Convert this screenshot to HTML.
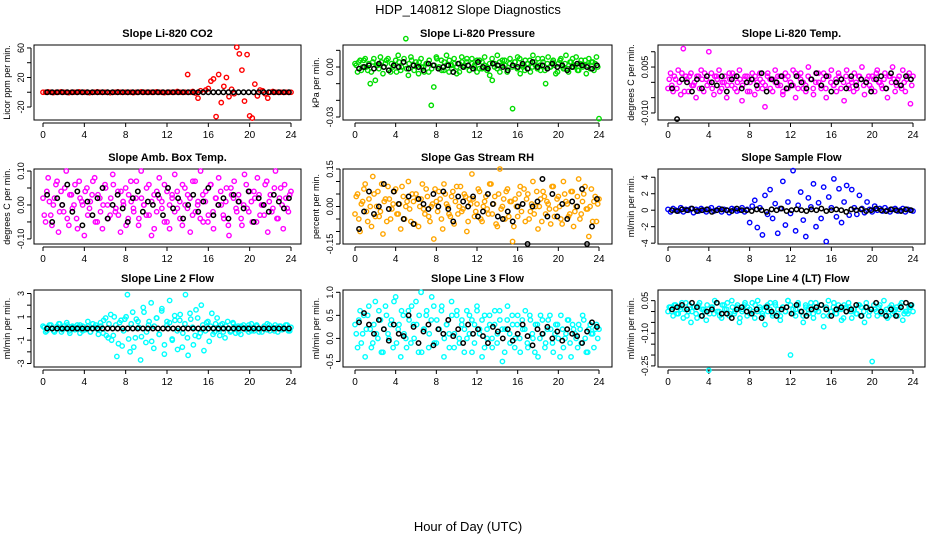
<!DOCTYPE html>
<html><head><meta charset="utf-8"><style>
html,body{margin:0;padding:0;background:#fff;}
svg{display:block;font-family:"Liberation Sans",sans-serif;}
</style></head><body>
<svg id="chart" width="936" height="540" viewBox="0 0 936 540" xmlns="http://www.w3.org/2000/svg">
<text x="468" y="14" font-size="13" text-anchor="middle">HDP_140812  Slope Diagnostics</text>
<text x="468" y="531" font-size="13" text-anchor="middle">Hour of Day (UTC)</text>
</svg>
<script>
// ----- data (hours evenly spaced 0..24 across each series) -----
const co2Color = [0,0,0.5,0,-0.5,0,0,0.5,0,0,-0.5,0,0,0,0.5,0,0,0,-0.5,0,0,0.5,0,0,0,0,-0.5,0,0,0.5,0,0,0,0,0,-0.5,0,0,0.5,0,0,0,0,0,0.5,0,0,-0.5,0,0,0,0,1,0,0,0,24,0,1,-1,-8,2,0,3,5,15,18,-33,24,-14,8,20,-6,4,-2,61,52,30,-12,51,-32,-35,11,-5,3,2,-2,-8,0,1,0,0,0,0,0,0,0];
const co2Black = [0,0,0,0,0,0,0,0,0,0,0,0,0,0,0,0,0,0,0,0,0,0,0,0,0,0,0,0,0,0,0,0,0,0,0,0,0,0,0,0,0,0,0,0,0,0,0,0,0];
// pressure in 0.001 kPa/min
const presColor = [2,-3,4,0,5,-2,-10,3,-8,1,6,-4,2,5,-3,0,4,7,-2,3,17,-5,6,1,3,-4,5,0,2,-3,-23,-12,6,0,4,-2,7,-3,1,5,-4,2,6,0,3,-2,5,1,-3,4,-1,6,0,-5,-8,2,7,-3,4,1,-2,5,-25,3,6,-4,0,4,2,-3,7,1,5,-2,3,-10,6,0,4,-4,2,5,-1,7,-3,3,0,6,-2,4,1,-4,5,3,-2,6,-31];
const presColor2 = [1,3,-2,4,0,2,-3,5,1,-1,3,0,4,-2,2,1,-3,3,0,5,-1,2,4,-2,1,3,0,-3,2,4,-1,1,5,0,-2,3,1,4,-1,2,0,-3,3,1,5,-2,2,0,4,-1,3,1,-2,2,5,0,-1,3,1,4,-3,2,0,3,-1,5,1,-2,2,4,0,3,-1,1,5,-2,2,0,3,1,-3,4,0,2,-1,3,5,1,-2,2,0,4,1,-1,3,2,0];
const presBlack = [-1,0,1,-1,2,0,-2,1,0,3,-1,1,0,-2,2,1,-1,0,1,-3,2,0,1,-1,3,0,-1,2,1,0,-2,1,0,2,-1,3,0,1,-1,2,0,1,-2,0,2,1,0,-1,1];
// temp in 0.001 C/min
const tempColor = [-2,3,-3,1,4,-4,11,2,-3,3,-1,-5,2,4,-3,1,10,3,-4,2,4,-2,0,-5,3,-1,2,-3,4,-6,1,2,-3,3,-4,0,3,-2,-8,2,1,-3,4,-1,2,-4,3,-2,0,4,-5,2,3,-2,-3,5,1,-4,3,0,-2,3,-5,2,4,-1,-3,2,1,-6,4,-2,0,3,-2,2,5,-4,1,-1,2,-3,4,0,-2,3,-5,2,5,-3,1,-1,4,-3,2,-7,2];
const tempColor2 = [1,-1,2,-2,0,3,-3,1,2,-1,0,2,-2,1,3,-1,0,-2,2,1,-3,0,2,-1,1,3,-2,0,1,-1,2,-3,0,1,2,-2,1,0,-1,3,-2,1,0,2,-1,-3,1,2,0,-1,3,-2,1,0,-1,2,1,-2,0,3,-1,1,-2,2,0,-1,1,3,-2,0,2,-1,1,-3,0,2,1,-1,0,2,-2,1,3,0,-1,1,-2,2,0,1,-1,2,-2,0,1,3,-1];
const tempBlack = [-2,-12,1,0,-3,1,-2,2,0,-1,2,-3,1,2,-2,0,1,-1,3,-3,1,0,2,-2,-1,2,0,-2,1,3,-1,2,-3,0,1,-2,2,-1,1,0,-3,1,2,-2,3,0,-1,2,1];
// amb box temp in 0.01 C/min
const ambColor = [2,-5,8,-3,0,6,-8,4,-2,10,-6,3,0,-4,7,1,-9,5,-1,3,8,-5,2,-7,6,0,-3,9,-2,4,-8,1,5,-4,7,-1,2,-6,10,0,-3,6,-9,3,-2,8,1,-5,4,-7,2,9,-1,-4,6,0,3,-8,7,-2,1,10,-5,4,-3,6,-7,2,8,0,-4,5,-9,3,7,-2,1,-6,9,-1,4,-5,2,8,-3,0,6,-8,3,-1,10,-4,5,-7,2,-2,4];
const ambColor2 = [-3,4,1,-6,2,7,-2,0,5,-4,3,-1,6,-7,2,0,4,-3,1,7,-5,3,-2,0,5,-4,2,6,-1,-3,4,0,-6,3,1,-2,7,-4,2,0,5,-3,1,-7,4,2,-1,6,-5,0,3,-2,4,1,-6,5,-1,2,-3,7,0,-4,3,1,-5,6,-2,2,0,4,-3,1,-6,5,2,-1,3,-4,0,6,-2,1,4,-5,3,0,-3,7,1,-2,5,-4,2,0,6,-1,3];
const ambBlack = [3,-5,2,0,6,-2,4,-6,1,-3,2,5,-4,0,3,-1,-5,2,4,-2,1,0,3,-3,5,-1,2,-4,0,3,-2,1,5,-3,0,2,-4,3,1,-1,4,-5,2,0,-2,3,1,-1,2];
// RH in 0.01 %/min
const rhColor = [-3,5,-10,2,9,-6,0,12,-4,6,-2,-11,3,8,-5,1,7,-3,-9,4,0,10,-6,2,5,-8,3,-1,7,-4,0,-13,2,6,-5,9,1,-3,4,-7,8,0,-2,5,-10,3,13,-4,1,6,-6,2,-1,9,-3,4,-8,15,0,-5,7,2,-14,3,-4,8,1,-6,5,-2,10,0,-9,3,6,-3,1,-7,8,-1,4,-5,10,2,-4,6,-8,0,11,-3,5,-1,-12,7,2,-6,3];
const rhColor2 = [4,-5,1,7,-2,3,-8,5,0,-4,9,2,-6,3,-1,6,-3,1,8,-5,2,-1,5,-7,3,0,9,-3,4,-6,1,7,-2,3,-9,5,0,-4,6,2,-3,8,-1,4,-6,1,3,-2,7,-5,0,4,-3,9,1,-7,5,-1,3,6,-4,2,-8,0,5,-2,7,3,-5,1,-3,6,0,-6,4,2,-1,8,-4,3,0,-7,5,1,-3,6,-2,4,-5,2,8,-1,0,-6,4,1];
const rhBlack = [-9,-2,6,-3,0,9,-1,6,1,-5,4,-7,3,1,-1,5,0,6,-1,-6,4,2,0,4,-4,-2,5,1,-4,-5,-2,-6,0,1,-15,0,2,11,-4,5,-4,1,-5,2,0,7,-15,-8,3];
const flowColor = [0.1,-0.2,0.2,0,-0.1,0.3,-0.2,0.1,0,0.2,-0.3,0.1,-0.1,0.2,0,-0.2,0.1,0.3,-0.1,0,0.2,-0.2,0.1,0,-0.3,0.2,0.1,-0.1,0,0.3,-0.2,0.1,-1.5,0.5,1.2,-2.1,0.3,-3,1.8,-0.5,2.5,-1,0.8,-2.8,0.2,3.5,-1.8,1,-0.4,4.8,-2.5,0.6,2.2,-1.2,-3.2,1.5,0.4,3.2,-2,0.9,-1,2.8,-3.8,1.6,0.3,3.8,-0.8,2.6,-1.5,1,3,-0.6,2.5,0.3,-0.5,1.8,0.2,-0.3,1,0.1,-0.2,0.5,0,0.2,-0.1,0.3,0,-0.2,0.1,0.2,-0.1,0,0.2,-0.2,0.1,0,-0.1];
const flowBlack = [0,-0.1,0.1,0,0.2,-0.1,0,0.1,-0.2,0,0.1,0,-0.1,0.2,0,0,-0.1,0.1,0,-0.2,0.1,0,0.2,-0.1,0,0.1,0,-0.1,0.1,0,0.2,-0.1,0,0.1,0,-0.2,0.1,0,0.1,-0.1,0,0.2,0,-0.1,0.1,0,-0.1,0.1,0];
const l2Color = [0.2,-0.3,0.1,0.3,-0.2,0,0.4,-0.3,0.2,0.5,-0.2,0.1,0,0.3,-0.4,0.2,-0.1,0.6,-0.3,0,0.3,-0.5,0.2,0.7,-0.6,0.4,-1,1,-2.4,0.5,-1.5,0.8,2.9,-2,1.4,-0.8,0.6,-2.7,1.8,-1.2,0.3,2.2,-1.7,0.9,-0.5,1.5,-2.2,0.6,2.4,-1,0.7,-1.8,1.2,-0.4,2.9,-2.3,0.8,-1.4,1.6,-0.7,2,-1.9,0.5,-1.1,1.3,-0.3,0.9,-0.6,0.4,-0.8,0.6,-0.3,0.5,-0.4,0.2,-0.5,0.3,0.1,-0.3,0.4,-0.2,0.3,0,-0.3,0.2,0.4,-0.2,0.1,0.3,-0.3,0.2,0,0.3,-0.2,0.1];
const l2Color2 = [0.1,-0.2,0.3,0,-0.3,0.2,0.4,-0.1,0,0.3,-0.4,0.2,-0.1,0.1,0.3,-0.2,0,0.2,-0.3,0.4,0.1,-0.1,0.5,-0.4,0.9,-0.8,1.2,-0.6,0.3,-1.3,0.7,-0.2,1,-0.9,0.4,-1.6,0.8,0.1,-0.7,1.4,-0.3,0.6,-1.1,0.2,0.9,-0.5,1.7,-1.4,0.3,0.5,-0.9,1.1,-0.2,0.7,-1.6,0.4,-0.8,1.3,0.1,-0.6,0.9,-0.4,0.3,-0.2,0.6,0.2,-0.5,0.4,-0.1,0.3,-0.3,0.2,0,-0.2,0.4,0.1,-0.3,0.2,0,-0.1,0.3,-0.2,0.1,0.2,-0.3,0,0.2,-0.1,0.3,0,-0.2,0.1,0.2,-0.1,0,0.3,-0.2];
const l2Black = [0,0,0,0,0,0,0,0,0,0,0,0,0,0,0,0,0,0,0,0,0,0,0,0,0,0,0,0,0,0,0,0,0,0,0,0,0,0,0,0,0,0,0,0,0,0,0,0,0];
const l3Color = [0.3,-0.2,0.6,0.1,-0.4,0.5,0.2,-0.1,0.8,0,0.4,-0.3,0.7,0.1,0.3,-0.2,0.9,0.2,-0.4,0.5,0,0.6,-0.1,0.3,0.8,-0.3,1,0.2,0.5,-0.2,0.4,0.7,-0.1,0.2,0.6,-0.4,0.3,0.1,0.8,-0.2,0.5,0,0.3,-0.3,0.6,0.1,0.4,-0.1,0.7,0.2,-0.4,0.5,0,0.3,-0.2,0.6,0.1,0.4,-0.5,0.2,0.7,-0.1,0.3,0,0.5,-0.3,0.2,0.6,-0.2,0.4,0,0.3,-0.4,0.5,0.1,-0.1,0.4,0.2,-0.3,0.3,0,0.5,-0.2,0.1,0.4,-0.4,0.2,0,0.3,-0.1,0.4,-0.3,0.2,0.1,-0.2,0.3,0.2];
const l3Color2 = [0.1,0.4,-0.1,0.5,0.2,0.7,-0.2,0.3,0.1,0.6,-0.3,0.2,0.5,0,0.4,0.8,-0.1,0.3,0.6,0.1,-0.2,0.4,0.7,0,0.3,0.5,-0.3,0.2,0.6,0.1,0.9,-0.1,0.4,0.2,0.7,0,0.3,-0.2,0.5,0.1,0.6,-0.1,0.4,0.2,0,0.5,-0.3,0.3,0.6,0.1,0.4,-0.2,0.2,0.5,0,0.3,-0.1,0.6,0.2,-0.3,0.4,0.1,0.5,-0.2,0.3,0,0.4,0.2,-0.1,0.5,0.1,-0.3,0.3,0,0.4,-0.2,0.2,0.5,-0.1,0.1,0.3,-0.4,0.2,0,0.4,-0.1,0.3,0.1,-0.2,0.2,0.5,0,-0.3,0.3,0.1,0.2,0];
const l3Black = [0.35,0.55,0.3,0.1,0.4,0.2,-0.05,0.3,0.1,0.05,0.5,0.25,-0.1,0.15,0.3,-0.15,0.2,0.1,0.4,0.05,0.2,-0.1,0.3,0.1,0.2,0.05,-0.1,0.25,0.15,0,0.2,-0.05,0.1,0.3,0.05,-0.15,0.2,0.1,0.25,0,0.15,-0.05,0.2,0.1,0.05,-0.1,0.15,0.35,0.25];
// line 4 in 0.01 mV/min
const l4Color = [0,2,-2,3,-1,1,-3,4,0,-5,2,-1,3,-2,1,-4,-27,2,-1,4,0,-3,3,1,-2,5,-1,2,-5,0,3,-2,1,4,-3,0,2,-1,-6,3,1,-2,4,-1,-4,2,0,5,-20,1,-2,3,0,-5,2,-1,4,-3,1,0,3,-7,2,-2,0,4,-1,1,-4,3,0,2,-3,1,-1,3,-2,-5,2,0,-23,1,-2,3,-1,0,-3,2,-1,1,-2,3,-4,0,-1,2,0];
const l4Color2 = [2,0,3,-1,2,4,1,-2,3,0,2,-3,4,1,0,3,-1,2,5,0,-2,3,1,4,-1,2,0,3,-3,1,4,2,-1,0,3,5,1,-2,2,0,4,-1,3,1,-2,2,0,5,3,-1,1,4,0,-2,3,1,2,-1,4,0,3,-2,1,5,0,2,-1,3,1,-3,2,4,0,1,-1,3,2,0,4,-2,1,3,0,2,-1,5,1,-2,3,0,2,1,4,-1,0,2,3];
const l4Black = [1,2,3,1,4,2,-2,0,1,4,-1,-1,-3,1,2,0,-1,1,-3,2,0,-2,1,2,-1,3,0,-2,1,2,3,1,-2,1,2,0,1,3,-2,2,1,4,0,-2,1,-2,2,4,3];

const xTicks = [0,4,8,12,16,20,24];
const colX = [[43,291,34,301],[355,599,343,612],[668,913,658,925]];
const rowY = [[45,120,33],[169,244,157],[290,367,278]];

const panels = [
 {title:"Slope Li-820 CO2", yl:"Licor ppm per min.", c:0,r:0, lo:-37.6, hi:64, ticks:[-20,0,20,40,60], labels:["-20","","20","","60"], col:"#ff0000", a:co2Color, a2:[], b:co2Black},
 {title:"Slope Li-820 Pressure", yl:"kPa per min.", c:1,r:0, lo:-31.8, hi:13.2, ticks:[-30,-20,-10,0,10], labels:["-0.03","","","0.00",""], col:"#00dd00", a:presColor, a2:presColor2, b:presBlack},
 {title:"Slope Li-820 Temp.", yl:"degrees C per min.", c:2,r:0, lo:-12.3, hi:12.2, ticks:[-10,-5,0,5,10], labels:["-0.010","","","0.005",""], col:"#ff00ff", a:tempColor, a2:tempColor2, b:tempBlack},
 {title:"Slope Amb. Box Temp.", yl:"degrees C per min.", c:0,r:1, lo:-11.5, hi:10.6, ticks:[-10,-5,0,5,10], labels:["-0.10","","0.00","","0.10"], col:"#ff00ff", a:ambColor, a2:ambColor2, b:ambBlack},
 {title:"Slope Gas Stream RH", yl:"percent per min.", c:1,r:1, lo:-15, hi:15, ticks:[-15,-10,-5,0,5,10,15], labels:["-0.15","","","0.00","","","0.15"], col:"#ffa500", a:rhColor, a2:rhColor2, b:rhBlack},
 {title:"Slope Sample Flow", yl:"ml/min per min.", c:2,r:1, lo:-4.1, hi:5, ticks:[-4,-2,0,2,4], labels:["-4","-2","0","2","4"], col:"#0000ff", a:flowColor, a2:[], b:flowBlack},
 {title:"Slope Line 2 Flow", yl:"ml/min per min.", c:0,r:2, lo:-3.3, hi:3.3, ticks:[-3,-2,-1,0,1,2,3], labels:["-3","","-1","","1","","3"], col:"#00ffff", a:l2Color, a2:l2Color2, b:l2Black},
 {title:"Slope Line 3 Flow", yl:"ml/min per min.", c:1,r:2, lo:-0.62, hi:1.05, ticks:[-0.5,0,0.5,1], labels:["-0.5","0.0","0.5","1.0"], col:"#00ffff", a:l3Color, a2:l3Color2, b:l3Black},
 {title:"Slope Line 4 (LT) Flow", yl:"ml/min per min.", c:2,r:2, lo:-25.5, hi:9.9, ticks:[-25,-20,-15,-10,-5,0,5], labels:["-0.25","","","-0.10","","","0.05"], col:"#00ffff", a:l4Color, a2:l4Color2, b:l4Black}
];

const NS="http://www.w3.org/2000/svg";
const svg=document.getElementById('chart');
function mk(tag,attrs,parent){const e=document.createElementNS(NS,tag);for(const k in attrs)e.setAttribute(k,attrs[k]);parent.appendChild(e);return e;}

panels.forEach((p,pi)=>{
  const [x0,x1,bl,br]=colX[p.c];
  const [yt,yb,ty]=rowY[p.r];
  const sx=h=>x0+(x1-x0)*h/24;
  const sy=v=>yb-(yb-yt)*(v-p.lo)/(p.hi-p.lo);
  const g=mk('g',{},svg);
  
  
  const t=mk('text',{x:(bl+br)/2,y:ty+4,'font-size':11,'font-weight':'bold','text-anchor':'middle'},g);
  t.textContent=p.title;
  
  
  const box=mk('rect',{x:bl,y:yt,width:br-bl,height:yb-yt,fill:'none',stroke:'#000','stroke-width':1},g);
  
  
  const xa=mk('g',{},g);
  
  
  mk('line',{x1:sx(0),x2:sx(24),y1:yb+3,y2:yb+3,stroke:'#000'},xa);
  xTicks.forEach(h=>{
    mk('line',{x1:sx(h),x2:sx(h),y1:yb+3,y2:yb+7,stroke:'#000'},xa);
    const l=mk('text',{x:sx(h),y:yb+18,'font-size':10,'text-anchor':'middle'},xa);
    l.textContent=h;
    
    
  });
  const ya=mk('g',{},g);
  
  
  const tv=p.ticks;
  mk('line',{x1:bl-3,x2:bl-3,y1:sy(tv[0]),y2:sy(tv[tv.length-1]),stroke:'#000'},ya);
  tv.forEach((v,i)=>{
    const y=sy(v);
    mk('line',{x1:bl-3,x2:bl-7,y1:y,y2:y,stroke:'#000'},ya);
    if(p.labels[i]){
      const l=mk('text',{x:bl-10,y:y,'font-size':9,'text-anchor':'middle',transform:`rotate(-90 ${bl-10} ${y})`},ya);
      l.textContent=p.labels[i];
      
      
    }
  });
  const yl=mk('text',{x:bl-24,y:(yt+yb)/2,'font-size':9,'text-anchor':'middle',transform:`rotate(-90 ${bl-24} ${(yt+yb)/2})`},ya);
  yl.textContent=p.yl;
  
  
  const s1=mk('g',{fill:'none',stroke:p.col,'stroke-width':1.4},g);
  
  
  p.a.forEach((v,i)=>{
    const c=mk('circle',{cx:sx(i*24/(p.a.length-1)),cy:sy(v),r:2.2},s1);
    
    
  });
  p.a2.forEach((v,i)=>{
    const c=mk('circle',{cx:sx((i+0.5)*24/p.a2.length),cy:sy(v),r:2.2},s1);
    
    
  });
  const s2=mk('g',{fill:'none',stroke:'#000','stroke-width':1.5},g);
  
  
  p.b.forEach((v,i)=>{
    const c=mk('circle',{cx:sx(0.4+i*23.4/(p.b.length-1)),cy:sy(v),r:2.2},s2);
    
    
  });
});
</script>
</body></html>
